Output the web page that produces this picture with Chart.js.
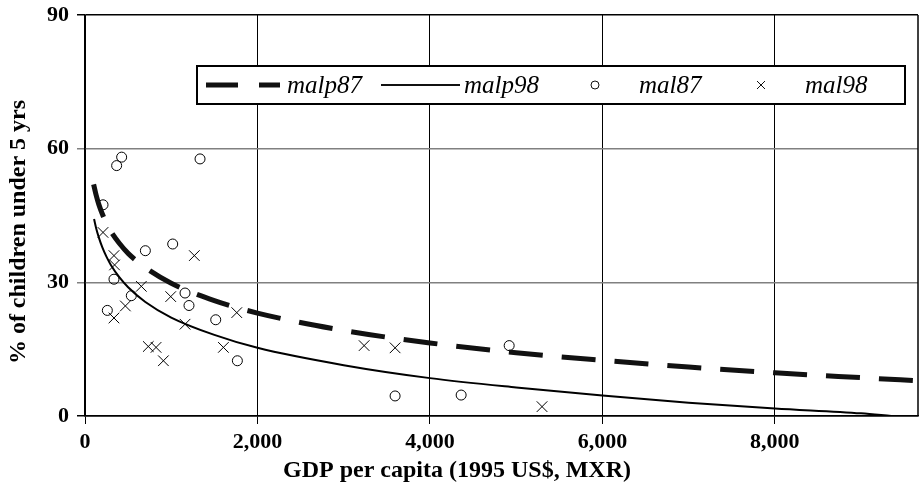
<!DOCTYPE html>
<html>
<head>
<meta charset="utf-8">
<script src="https://cdn.jsdelivr.net/npm/chart.js@4/dist/chart.umd.min.js"></script>
<style>
  html, body { margin: 0; padding: 0; background: #fff; }
  #wrap { width: 919px; height: 491px; }
</style>
</head>
<body>
<div id="wrap"><canvas id="malChart" width="919" height="491"></canvas></div>
<script>
// fitted curves
const curveGdp87 = [100, 130, 160, 200, 250, 300, 400, 500, 700, 1000, 1500, 2000, 3000, 4000, 5000, 6000, 7000, 8000, 9000, 9660];
const malp87 = [52.0, 49.5, 47.5, 45.4, 43.2, 41.4, 38.7, 36.5, 33.3, 29.8, 25.9, 23.1, 19.2, 16.4, 14.2, 12.5, 11.0, 9.7, 8.6, 7.9];
const curveGdp98 = [105, 130, 160, 200, 250, 300, 400, 500, 700, 1000, 1500, 2000, 3000, 4000, 5000, 6000, 7000, 8000, 9000, 9350];
const malp98 = [44.2, 42.1, 40.1, 37.9, 35.7, 33.9, 31.1, 28.9, 25.6, 22.1, 18.2, 15.3, 11.4, 8.5, 6.4, 4.6, 3.0, 1.7, 0.6, 0.0];

// observations
const gdp87 = [425, 367, 1334, 209, 700, 1017, 336, 537, 259, 1160, 1206, 1516, 1767, 4919, 3596, 4362];
const mal87 = [58.1, 56.2, 57.7, 47.4, 37.1, 38.6, 30.7, 27.0, 23.7, 27.6, 24.8, 21.6, 12.4, 15.8, 4.5, 4.7];
const gdp98 = [209, 336, 343, 653, 468, 336, 1268, 994, 1160, 1760, 734, 824, 909, 1605, 3237, 3596, 5300];
const mal98 = [41.2, 36.0, 33.9, 29.1, 24.7, 22.0, 36.0, 26.8, 20.6, 23.2, 15.6, 15.4, 12.4, 15.4, 15.8, 15.3, 2.1];

const xTicks = [0, 2000, 4000, 6000, 8000];
const yTicks = [0, 30, 60, 90];
const xTitle = "GDP per capita (1995 US$, MXR)";
const yTitle = "% of children under 5 yrs";

const pairs = (xs, ys) => xs.map((x, i) => ({ x: x, y: ys[i] }));
const serif = '"Liberation Serif", "Times New Roman", serif';

const overlay = {
  id: "overlay",
  afterDraw(chart) {
    const { ctx, chartArea: a } = chart;
    ctx.save();
    // right border of plot
    ctx.strokeStyle = "#000";
    ctx.lineWidth = 1.5;
    ctx.beginPath();
    ctx.moveTo(a.right, a.top);
    ctx.lineTo(a.right, a.bottom);
    ctx.stroke();

    // axis titles
    ctx.fillStyle = "#000";
    ctx.font = "bold 24px " + serif;
    ctx.textAlign = "center";
    ctx.textBaseline = "middle";
    ctx.fillText(xTitle, 457, 471);
    ctx.save();
    ctx.translate(19, 232);
    ctx.rotate(-Math.PI / 2);
    ctx.fillText(yTitle, 0, 0);
    ctx.restore();

    // legend box
    const ds = chart.data.datasets;
    const ly = 85;
    ctx.fillStyle = "#fff";
    ctx.fillRect(197, 66, 708, 38);
    ctx.lineWidth = 2;
    ctx.strokeRect(197, 66, 708, 38);

    ctx.strokeStyle = "#111";
    ctx.lineWidth = 5;
    ctx.beginPath();
    ctx.moveTo(206, ly); ctx.lineTo(238, ly);
    ctx.moveTo(259, ly); ctx.lineTo(280, ly);
    ctx.stroke();
    ctx.lineWidth = 2;
    ctx.beginPath();
    ctx.moveTo(381, ly); ctx.lineTo(460, ly);
    ctx.stroke();
    ctx.lineWidth = 1;
    ctx.beginPath();
    ctx.arc(595, ly, 4, 0, Math.PI * 2);
    ctx.stroke();
    ctx.beginPath();
    ctx.moveTo(757, ly - 4); ctx.lineTo(765, ly + 4);
    ctx.moveTo(765, ly - 4); ctx.lineTo(757, ly + 4);
    ctx.stroke();

    ctx.fillStyle = "#000";
    ctx.font = "italic 25px " + serif;
    ctx.textAlign = "left";
    ctx.fillText(ds[0].label, 287, ly + 1);
    ctx.fillText(ds[1].label, 464, ly + 1);
    ctx.fillText(ds[2].label, 639, ly + 1);
    ctx.fillText(ds[3].label, 805, ly + 1);
    ctx.restore();
  },
};

new Chart(document.getElementById("malChart"), {
  type: "scatter",
  data: {
    datasets: [
      {
        label: "malp87",
        data: pairs(curveGdp87, malp87),
        showLine: true,
        borderColor: "#111",
        borderWidth: 5,
        borderDash: [34, 19],
        borderCapStyle: "butt",
        cubicInterpolationMode: "monotone",
        pointRadius: 0,
      },
      {
        label: "malp98",
        data: pairs(curveGdp98, malp98),
        showLine: true,
        borderColor: "#000",
        borderWidth: 2,
        cubicInterpolationMode: "monotone",
        pointRadius: 0,
      },
      {
        label: "mal87",
        data: pairs(gdp87, mal87),
        pointStyle: "circle",
        pointRadius: 5,
        borderColor: "#000",
        backgroundColor: "rgba(0,0,0,0)",
        borderWidth: 1,
      },
      {
        label: "mal98",
        data: pairs(gdp98, mal98),
        pointStyle: "crossRot",
        pointRadius: 7.5,
        borderColor: "#000",
        borderWidth: 1,
      },
    ],
  },
  options: {
    responsive: false,
    devicePixelRatio: 1,
    animation: false,
    layout: { autoPadding: false, padding: { top: 15, right: 1, left: 0, bottom: 0 } },
    plugins: { legend: { display: false }, tooltip: { enabled: false } },
    scales: {
      x: {
        type: "linear",
        min: 0,
        max: 9660,
        afterBuildTicks: (s) => { s.ticks = xTicks.map((v) => ({ value: v })); },
        afterFit: (s) => { s.height = 75; s.paddingLeft = 0; s.paddingRight = 0; },
        grid: { color: "#000", lineWidth: 1, tickLength: 8 },
        border: { color: "#000", width: 1.5 },
        ticks: {
          color: "#000",
          padding: 5,
          maxRotation: 0,
          font: { family: serif, size: 22, weight: "bold" },
          callback: (v) => Number(v).toLocaleString("en-US"),
        },
      },
      y: {
        type: "linear",
        min: 0,
        max: 90,
        afterBuildTicks: (s) => { s.ticks = yTicks.map((v) => ({ value: v })); },
        afterFit: (s) => { s.width = 85; s.paddingTop = 0; s.paddingBottom = 0; },
        grid: {
          color: (c) => (c.tick && (c.tick.value === 0 || c.tick.value === 90) ? "#000" : "#808080"),
          lineWidth: 1.5,
          tickLength: 8,
        },
        border: { color: "#000", width: 1.5 },
        ticks: {
          color: "#000",
          padding: 8,
          font: { family: serif, size: 22, weight: "bold" },
        },
      },
    },
  },
  plugins: [overlay],
});
</script>
</body>
</html>
